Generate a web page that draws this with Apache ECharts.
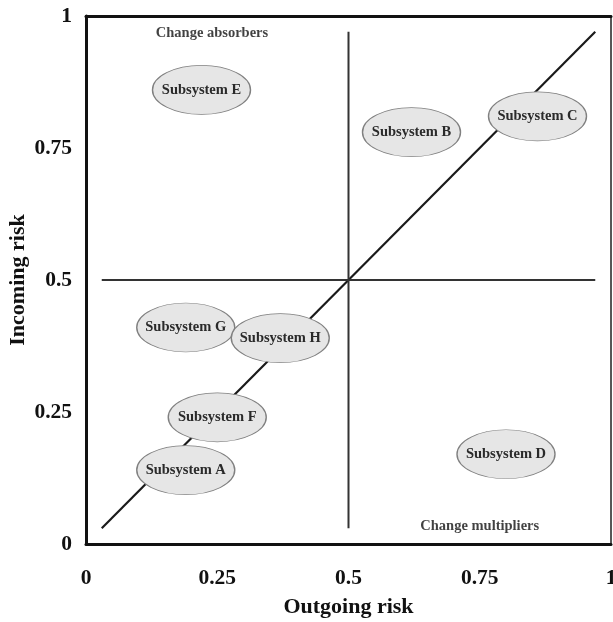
<!DOCTYPE html>
<html>
<head>
<meta charset="utf-8">
<script src="https://cdn.jsdelivr.net/npm/echarts@6/dist/echarts.min.js"></script>
<style>html,body{margin:0;padding:0;background:#fff;}#c{width:613px;height:622px;}</style>
</head>
<body>
<div id="c"></div>
<script>
const subsystems = ['Subsystem A','Subsystem B','Subsystem C','Subsystem D','Subsystem E','Subsystem F','Subsystem G','Subsystem H'];
const outgoing = [0.19, 0.62, 0.86, 0.80, 0.22, 0.25, 0.19, 0.37];
const incoming = [0.14, 0.78, 0.81, 0.17, 0.86, 0.24, 0.41, 0.39];
const diagonalX = [0.03, 0.97];
const diagonalY = [0.03, 0.97];
const verticalX = [0.5, 0.5];
const verticalY = [0.03, 0.97];
const horizontalX = [0.03, 0.97];
const horizontalY = [0.5, 0.5];
const regionNames = ['Change absorbers', 'Change multipliers'];
const regionX = [0.24, 0.75];
const regionY = [0.968, 0.034];
const tickValues = [0, 0.25, 0.5, 0.75, 1];
const xTitle = 'Outgoing risk';
const yTitle = 'Incoming risk';

const font = 'Liberation Serif';
const zip = (a, b) => a.map((v, i) => [v, b[i]]);

const chart = echarts.init(document.getElementById('c'));
const axisCommon = {
  type: 'value', min: 0, max: 1, interval: 0.25,
  splitLine: {show: false}, axisTick: {show: false},
  nameLocation: 'middle', nameMoveOverlap: false,
  nameTextStyle: {fontFamily: font, fontWeight: 'bold', fontSize: 22, color: '#111'},
  axisLabel: {fontFamily: font, fontWeight: 'bold', fontSize: 21.5, color: '#111',
    formatter: v => tickValues.includes(v) ? String(v) : ''}
};
chart.setOption({
  animation: false,
  grid: {left: 86, top: 16, right: 2, bottom: 78, show: true, borderColor: '#222', borderWidth: 1.5,
    outerBoundsMode: 'none', containLabel: false},
  xAxis: [
    Object.assign({}, axisCommon, {position: 'bottom', name: xTitle, nameGap: 52,
      axisLine: {lineStyle: {color: '#111', width: 3}},
      axisLabel: Object.assign({}, axisCommon.axisLabel, {margin: 23})}),
    {type: 'value', min: 0, max: 1, position: 'top', axisLabel: {show: false}, axisTick: {show: false},
      splitLine: {show: false}, axisLine: {lineStyle: {color: '#111', width: 3}}}
  ],
  yAxis: [
    Object.assign({}, axisCommon, {name: yTitle, nameGap: 57,
      axisLine: {lineStyle: {color: '#111', width: 3}},
      axisLabel: Object.assign({}, axisCommon.axisLabel, {margin: 14})})
  ],
  series: [
    {type: 'line', data: zip(diagonalX, diagonalY), symbol: 'none', z: 1,
      lineStyle: {color: '#1a1a1a', width: 2.2}},
    {type: 'line', data: zip(verticalX, verticalY), symbol: 'none', z: 1,
      lineStyle: {color: '#333', width: 2}},
    {type: 'line', data: zip(horizontalX, horizontalY), symbol: 'none', z: 1,
      lineStyle: {color: '#333', width: 2}},
    {type: 'scatter', z: 3, symbol: 'circle', symbolSize: [98, 49],
      data: subsystems.map((n, i) => ({name: n, value: [outgoing[i], incoming[i]]})),
      itemStyle: {color: '#e6e6e6', borderColor: '#808080', borderWidth: 1, opacity: 1},
      label: {show: true, position: 'inside', formatter: p => p.name,
        fontFamily: font, fontWeight: 'bold', fontSize: 14.5, color: '#2a2a2a'}},
    {type: 'scatter', z: 3, symbolSize: 0,
      data: regionNames.map((n, i) => ({name: n, value: [regionX[i], regionY[i]]})),
      label: {show: true, position: 'inside', formatter: p => p.name,
        fontFamily: font, fontWeight: 'bold', fontSize: 14.5, color: '#111'}}
  ]
});
</script>
</body>
</html>
